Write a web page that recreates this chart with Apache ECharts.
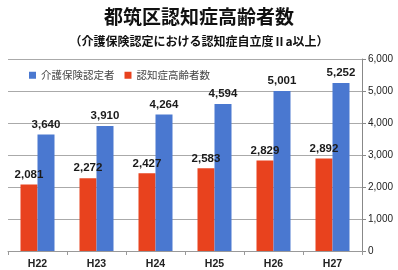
<!DOCTYPE html>
<html><head><meta charset="utf-8">
<script src="https://cdn.jsdelivr.net/npm/echarts@6/dist/echarts.min.js"></script>
<style>html,body{margin:0;padding:0;background:#fff}#c{width:398px;height:270px}</style>
</head><body><div id="c"></div>
<script>
const categories = ['H22','H23','H24','H25','H26','H27'];
const kaigo = [3640, 3910, 4264, 4594, 5001, 5252];
const ninchi = [2081, 2272, 2427, 2583, 2829, 2892];
const yTicks = [0, 1000, 2000, 3000, 4000, 5000, 6000];

const chart = echarts.init(document.getElementById('c'), null, {renderer:'canvas'});
const fontJP = '"Noto Sans CJK JP", sans-serif';
const lbl = {show:true, position:'top', distance:4, color:'#1a1a1a', fontSize:11.5, fontWeight:'bold', fontFamily:'"Liberation Sans", sans-serif',
  formatter: p => p.value.toLocaleString('en-US')};
chart.setOption({
  animation:false,
  backgroundColor:'#fff',
  title:[
    {text:'都筑区認知症高齢者数', left:'center', top:2, textStyle:{fontSize:19, fontWeight:'bold', color:'#111', fontFamily:fontJP}},
    {text:'（介護保険認定における認知症自立度Ⅱa以上）', left:'center', top:30, textStyle:{fontSize:12, fontWeight:'bold', color:'#111', fontFamily:fontJP}}
  ],
  legend:{data:['介護保険認定者','認知症高齢者数'], left:24, top:65, itemWidth:7, itemHeight:7, itemGap:10, icon:'rect',
    textStyle:{fontSize:10.5, color:'#444', fontFamily:fontJP}},
  grid:{left:8, right:36, top:59, bottom:19},
  xAxis:{type:'category', data:categories,
    axisLine:{lineStyle:{color:'#999'}}, axisTick:{show:true, length:4, lineStyle:{color:'#999'}},
    axisLabel:{fontSize:10.5, fontWeight:'bold', color:'#222', margin:8, fontFamily:'"Liberation Sans", sans-serif'}},
  yAxis:{type:'value', position:'right', min:yTicks[0], max:yTicks[yTicks.length-1], interval:1000,
    axisLine:{show:true, lineStyle:{color:'#888'}}, axisTick:{show:true, length:4, lineStyle:{color:'#888'}},
    axisLabel:{fontSize:10, color:'#222', margin:6, fontFamily:'"Liberation Sans", sans-serif', formatter:v=>v.toLocaleString('en-US')},
    splitLine:{lineStyle:{color:'#aaa'}}},
  series:[
    {name:'認知症高齢者数', type:'bar', data:ninchi, barWidth:17, barGap:'0%', itemStyle:{color:'#e8421e'}, label:lbl},
    {name:'介護保険認定者', type:'bar', data:kaigo, barWidth:17, barGap:'0%', itemStyle:{color:'#4a78d0'}, label:lbl}
  ]
});
</script></body></html>
